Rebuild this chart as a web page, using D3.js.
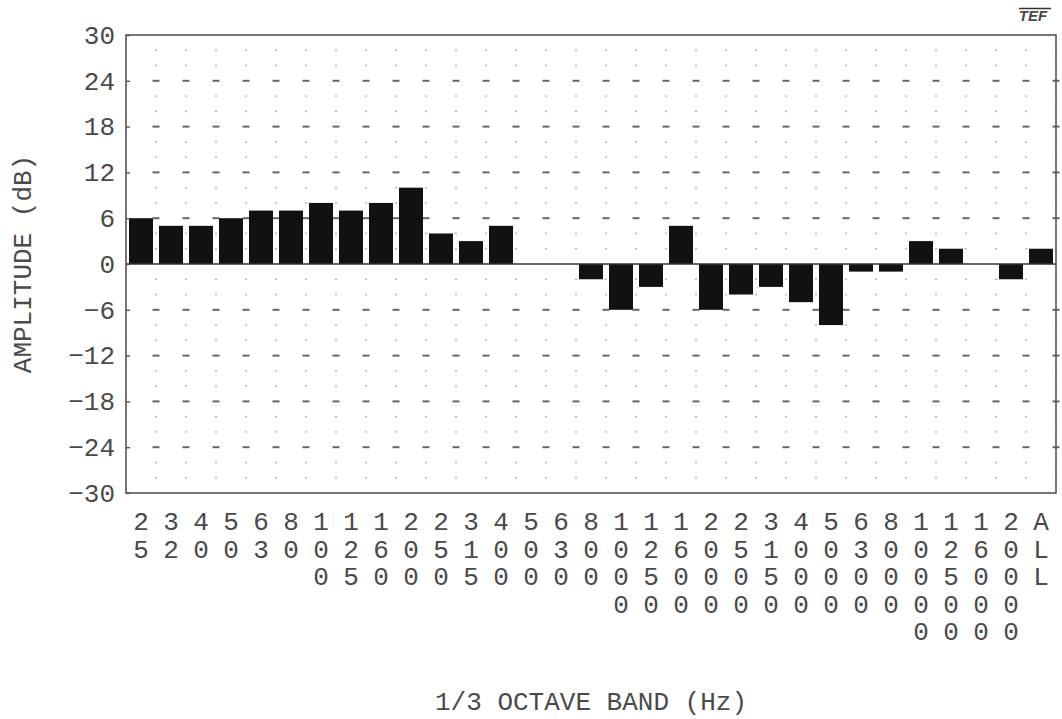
<!DOCTYPE html>
<html>
<head>
<meta charset="utf-8">
<script src="https://cdn.jsdelivr.net/npm/d3@7"></script>
<style>
  html, body { margin: 0; padding: 0; background: #fff; }
  svg { display: block; }
  text { font-family: "Liberation Mono", "DejaVu Sans Mono", monospace; fill: #4a4a4a; }
</style>
</head>
<body>
<svg id="chart" width="1062" height="719"></svg>
<script>
// 1/3-octave band centre frequencies (Hz) plus the overall level
const bands = ["25","32","40","50","63","80","100","125","160","200","250","315","400",
  "500","630","800","1000","1250","1600","2000","2500","3150","4000","5000","6300",
  "8000","10000","12500","16000","20000","ALL"];

// Amplitude per band (dB)
const amplitude = [6,5,5,6,7,7,8,7,8,10,4,3,5,
  0,0,-2,-6,-3,5,-6,-4,-3,-5,-8,-1,
  -1,3,2,0,-2,2];

// Labelled amplitude ticks (dB)
const yTicks = [-30,-24,-18,-12,-6,0,6,12,18,24,30];
// Minor grid levels (dB)
const yMinor = d3.range(-28, 30, 2);

const svg = d3.select("#chart");
const plotLeft = 126, plotRight = 1056, plotTop = 35, plotBottom = 493;

const x = d3.scaleBand().domain(bands).range([plotLeft, plotRight])
  .paddingInner(0.2).paddingOuter(0.1);
const y = d3.scaleLinear().domain([-30, 30]).range([plotBottom, plotTop]);

const gap = (x.step() - x.bandwidth()) / 2;
// Column positions for the grid: boundaries between bands
const gridX = bands.slice(1).map(b => x(b) - gap).concat([plotRight]);

// Dotted / dashed grid
const grid = svg.append("g");
yMinor.forEach(v => {
  if (v === 0) return;
  const major = v % 6 === 0;
  grid.selectAll(null).data(gridX).enter().append("rect")
    .attr("x", d => major ? d - 3.5 : d - 0.8)
    .attr("y", y(v) - (major ? 1 : 0.8))
    .attr("width", major ? 7 : 1.6)
    .attr("height", major ? 2 : 1.6)
    .attr("fill", major ? "#666" : "#aaa");
});

// Bars
svg.append("g").selectAll("rect").data(bands).enter().append("rect")
  .attr("x", d => x(d))
  .attr("width", x.bandwidth())
  .attr("y", (d, i) => y(Math.max(0, amplitude[i])))
  .attr("height", (d, i) => Math.abs(y(amplitude[i]) - y(0)))
  .attr("fill", "#111");

// Zero line
svg.append("line")
  .attr("x1", plotLeft).attr("x2", plotRight)
  .attr("y1", y(0)).attr("y2", y(0))
  .attr("stroke", "#333").attr("stroke-width", 1.6);

// Frame
svg.append("rect")
  .attr("x", plotLeft).attr("y", plotTop)
  .attr("width", plotRight - plotLeft).attr("height", plotBottom - plotTop)
  .attr("fill", "none").attr("stroke", "#555").attr("stroke-width", 1.6);

// Y axis
const yAxis = svg.append("g")
  .attr("transform", `translate(${plotLeft},0)`)
  .call(d3.axisLeft(y).tickValues(yTicks).tickSize(-4).tickPadding(11).tickFormat(d3.format("d")));
yAxis.select(".domain").remove();
yAxis.selectAll(".tick line").attr("stroke", "#555").attr("stroke-width", 1.4);
yAxis.selectAll(".tick text")
  .style("font-family", "'Liberation Mono', monospace")
  .style("font-size", "26px").attr("fill", "#4a4a4a");

// X labels: characters stacked vertically
const xLab = svg.append("g");
bands.forEach(b => {
  const t = xLab.append("text")
    .attr("text-anchor", "middle")
    .style("font-size", "26px");
  b.split("").forEach((ch, k) => {
    t.append("tspan")
      .attr("x", x(b) + x.bandwidth() / 2)
      .attr("y", 530 + k * 27.5)
      .text(ch);
  });
});

// Axis titles
svg.append("text")
  .attr("transform", `translate(24,${y(0)}) rotate(-90)`)
  .attr("text-anchor", "middle").attr("dominant-baseline", "central")
  .style("font-size", "26px")
  .text("AMPLITUDE (dB)");

svg.append("text")
  .attr("x", (plotLeft + plotRight) / 2).attr("y", 703)
  .attr("text-anchor", "middle").attr("dominant-baseline", "central")
  .style("font-size", "26px")
  .text("1/3 OCTAVE BAND (Hz)");

// Maker mark
svg.append("text")
  .attr("x", 1033).attr("y", 21)
  .attr("text-anchor", "middle")
  .style("font-family", "'Liberation Sans', sans-serif")
  .style("font-size", "15px").style("font-style", "italic").style("font-weight", "bold")
  .attr("fill", "#333")
  .text("TEF");
svg.append("line")
  .attr("x1", 1019).attr("x2", 1051).attr("y1", 8.5).attr("y2", 8.5)
  .attr("stroke", "#333").attr("stroke-width", 1.5);
</script>
</body>
</html>
